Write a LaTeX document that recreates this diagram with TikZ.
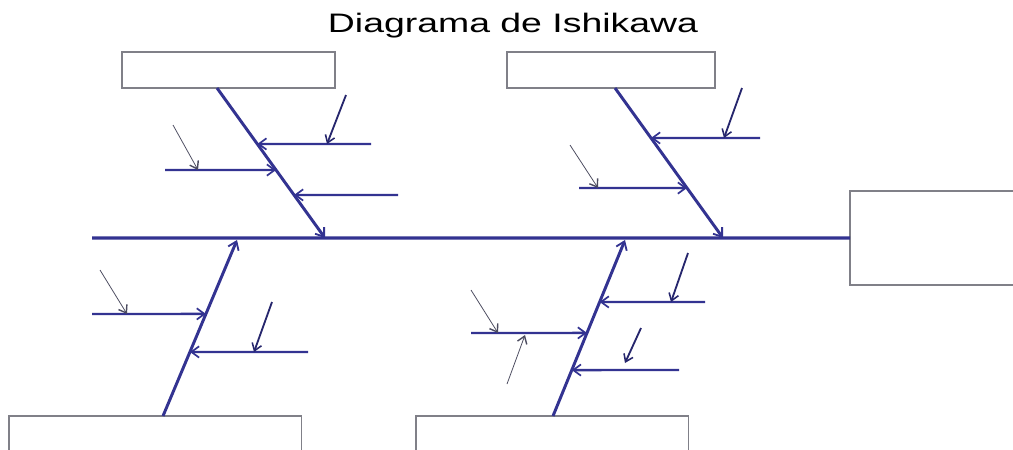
\documentclass[tikz,border=0pt]{standalone}
\usepackage{graphicx}
\usepackage{fontspec}
\setmainfont{Liberation Sans}
\usetikzlibrary{arrows.meta,calc}
\definecolor{bone}{RGB}{51,51,145}
\definecolor{boxgray}{RGB}{128,128,136}
\definecolor{hint}{RGB}{75,75,95}
\tikzset{
  box/.style={draw=boxgray, line width=0.8pt, fill=white, inner sep=0pt, outer sep=0pt, anchor=north west},
  spine/.style={draw=bone, line width=2.3pt},
  bonearrow/.style={draw=bone, line width=2.1pt, -{Straight Barb[length=5.5pt,width=8pt,line width=1.3pt]}},
  subarrow/.style={draw=bone, line width=1.7pt, -{Straight Barb[length=5.5pt,width=8pt,line width=1.2pt]}},
  causearrow/.style={draw=bone!75!black, line width=1.3pt, -{Straight Barb[length=5pt,width=7pt,line width=1.1pt]}},
  hintarrow/.style={draw=hint, line width=0.55pt, -{Straight Barb[length=5pt,width=7pt,line width=1pt]}},
}
\begin{document}
\begin{tikzpicture}[x=0.025cm, y=-0.025cm]
\useasboundingbox (0,0) rectangle (1013,449);
\clip (0,0) rectangle (1013,449);
\fill[white] (0,0) rectangle (1013,449);

% title
\node[anchor=base, inner sep=0pt] (title) at (513,32) {\fontsize{19}{22}\selectfont\scalebox{1.4}[1]{Diagrama de Ishikawa}};

% boxes
\node[box, minimum width=5.325cm, minimum height=0.9cm] (tl) at (122,52) {};
\node[box, minimum width=5.2cm, minimum height=0.9cm] (tm) at (507,52) {};
\node[box, minimum width=4.5cm, minimum height=2.35cm] (eff) at (850,191) {};
\node[box, minimum width=7.3cm, minimum height=1.6cm] (bl) at (9,416) {};
\node[box, minimum width=6.8cm, minimum height=1.6cm] (bm) at (416,416) {};

% spine
\coordinate (sp0) at (92,238);
\draw[spine] (sp0) -- (eff.west);

% top-left bone
\coordinate (tlA) at (217,88);
\coordinate (tlB) at (325,238);
\draw[bonearrow] (tlA) -- (tlB);
\coordinate (tl1s) at (371,144);
\coordinate (tl1e) at ($(tlA)!0.373!(tlB)$);
\draw[subarrow] (tl1s) -- (tl1e);
\coordinate (tl1c) at (346,95);
\coordinate (tl1t) at (327,144);
\draw[causearrow] (tl1c) -- (tl1t);
\coordinate (tl2s) at (165,170);
\coordinate (tl2e) at ($(tlA)!0.547!(tlB)$);
\draw[subarrow] (tl2s) -- (tl2e);
\coordinate (tl2h) at (173,125);
\coordinate (tl2t) at (198,170);
\draw[hintarrow] (tl2h) -- (tl2t);
\coordinate (tl3s) at (398,195);
\coordinate (tl3e) at ($(tlA)!0.713!(tlB)$);
\draw[subarrow] (tl3s) -- (tl3e);

% top-middle bone
\coordinate (tmA) at (615,88);
\coordinate (tmB) at (723,238);
\draw[bonearrow] (tmA) -- (tmB);
\coordinate (tm1s) at (760,138);
\coordinate (tm1e) at ($(tmA)!0.333!(tmB)$);
\draw[subarrow] (tm1s) -- (tm1e);
\coordinate (tm1c) at (742,88);
\coordinate (tm1t) at (724,138);
\draw[causearrow] (tm1c) -- (tm1t);
\coordinate (tm2s) at (579,188);
\coordinate (tm2e) at ($(tmA)!0.667!(tmB)$);
\draw[subarrow] (tm2s) -- (tm2e);
\coordinate (tm2h) at (570,145);
\coordinate (tm2t) at (598,188);
\draw[hintarrow] (tm2h) -- (tm2t);

% bottom-left bone
\coordinate (blA) at (163,416);
\coordinate (blB) at (237,240);
\draw[bonearrow] (blA) -- (blB);
\coordinate (bl1s) at (92,314);
\coordinate (bl1e) at ($(blA)!0.580!(blB)$);
\draw[subarrow] (bl1s) -- (bl1e);
\coordinate (bl1h) at (100,270);
\coordinate (bl1t) at (127,314);
\draw[hintarrow] (bl1h) -- (bl1t);
\coordinate (bl2s) at (308,352);
\coordinate (bl2e) at ($(blA)!0.364!(blB)$);
\draw[subarrow] (bl2s) -- (bl2e);
\coordinate (bl2c) at (272,302);
\coordinate (bl2t) at (254,352);
\draw[causearrow] (bl2c) -- (bl2t);

% bottom-middle bone
\coordinate (bmA) at (553,416);
\coordinate (bmB) at (625,240);
\draw[bonearrow] (bmA) -- (bmB);
\coordinate (bm1s) at (705,302);
\coordinate (bm1e) at ($(bmA)!0.648!(bmB)$);
\draw[subarrow] (bm1s) -- (bm1e);
\coordinate (bm1c) at (688,253);
\coordinate (bm1t) at (671,302);
\draw[causearrow] (bm1c) -- (bm1t);
\coordinate (bm2s) at (471,333);
\coordinate (bm2e) at ($(bmA)!0.472!(bmB)$);
\draw[subarrow] (bm2s) -- (bm2e);
\coordinate (bm2h) at (471,290);
\coordinate (bm2t) at (498,333);
\draw[hintarrow] (bm2h) -- (bm2t);
\coordinate (bm2g) at (507,384);
\coordinate (bm2u) at (525,335);
\draw[hintarrow] (bm2g) -- (bm2u);
\coordinate (bm3s) at (679,370);
\coordinate (bm3e) at ($(bmA)!0.261!(bmB)$);
\draw[subarrow] (bm3s) -- (bm3e);
\coordinate (bm3c) at (641,328);
\coordinate (bm3t) at (625,363);
\draw[causearrow] (bm3c) -- (bm3t);
\end{tikzpicture}
\end{document}
